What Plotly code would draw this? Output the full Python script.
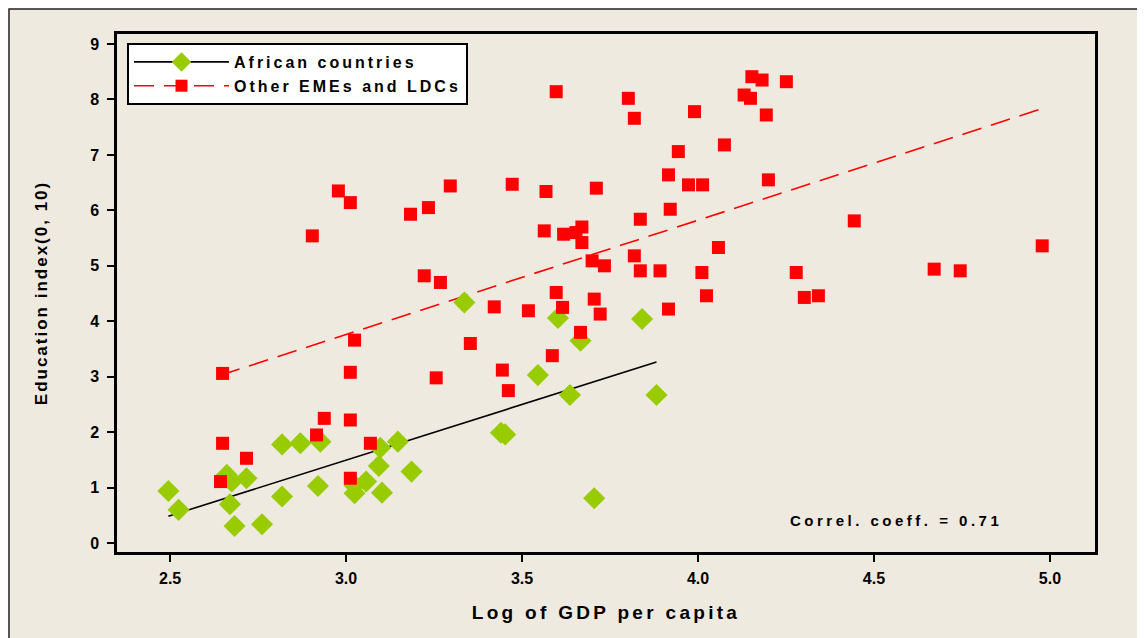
import plotly.graph_objects as go

# ---- data ----
african_x = [2.495, 2.524, 2.661, 2.675, 2.717, 2.670, 2.683, 2.761, 2.818, 2.870,
             2.927, 2.818, 2.920, 3.024, 3.024, 3.057, 3.093, 3.097, 3.147, 3.102,
             3.186, 3.336, 3.602, 3.666, 3.841, 3.545, 3.636, 3.882, 3.440, 3.452,
             3.705]
african_y = [0.94, 0.60, 1.23, 1.11, 1.17, 0.70, 0.31, 0.34, 1.78, 1.80,
             1.83, 0.84, 1.03, 1.04, 0.90, 1.11, 1.39, 1.72, 1.83, 0.91,
             1.29, 4.34, 4.06, 3.65, 4.04, 3.03, 2.67, 2.67, 1.99, 1.96,
             0.81]

other_x = [2.649, 3.012, 3.256, 2.938, 3.012, 2.916, 2.649, 3.069, 2.717, 2.643,
           3.012, 3.024, 3.353, 3.421, 2.978, 3.012, 2.904, 3.183, 3.234, 3.296,
           3.472, 3.222, 3.268, 3.444, 3.461, 3.563, 3.618, 3.653, 3.670, 3.670,
           3.836, 3.699, 3.734, 3.819, 3.836, 3.892, 4.011, 4.024, 4.058, 3.518,
           3.597, 3.615, 3.705, 3.722, 3.916, 3.666, 3.586, 3.597, 3.802, 3.819,
           3.990, 4.153, 4.182, 4.251, 4.131, 4.149, 4.194, 4.075, 3.944, 3.916,
           3.973, 4.013, 4.200, 3.568, 3.711, 3.921, 4.279, 4.302, 4.342, 4.444,
           4.671, 4.745, 4.978]
other_y = [3.06, 3.08, 2.98, 2.25, 2.22, 1.95, 1.80, 1.80, 1.53, 1.11,
           1.17, 3.66, 3.60, 4.26, 6.35, 6.14, 5.54, 5.93, 6.05, 6.44,
           6.47, 4.82, 4.70, 3.12, 2.75, 5.63, 5.57, 5.60, 5.70, 5.42,
           5.84, 5.09, 5.00, 5.18, 4.91, 4.91, 4.88, 4.46, 5.33, 4.19,
           4.52, 4.25, 4.40, 4.13, 4.22, 3.80, 3.38, 8.14, 8.02, 7.66,
           7.78, 8.41, 8.35, 8.32, 8.08, 8.02, 7.72, 7.18, 7.06, 6.64,
           6.46, 6.46, 6.55, 6.34, 6.40, 6.02, 4.88, 4.43, 4.46, 5.81,
           4.94, 4.91, 5.36]

# fitted lines (slope, intercept)
african_fit = (2.006, -4.521)
other_fit = (2.060, -2.418)
correl_text = "Correl. coeff. = 0.71"

series_names = ["African countries", "Other EMEs and LDCs"]
x_title = "Log of GDP per capita"
y_title = "Education index(0, 10)"
x_ticks = [2.5, 3.0, 3.5, 4.0, 4.5, 5.0]
y_ticks = [0, 1, 2, 3, 4, 5, 6, 7, 8, 9]

# ---- styling ----
GREEN = "#99CC00"
RED = "#FF0000"
BEIGE = "#EEEAE0"
FONT = "Liberation Sans"
OFF = 8                      # page body margin
W, H = 1145 - OFF, 638 - OFF
L, T = 117 - OFF, 34 - OFF
R, B = W - (1095 - OFF), H - (552 - OFF)
PW, PH = W - L - R, H - T - B


def px_x(p):
    return (p - OFF - L) / PW


def px_y(p):
    return (H - B - (p - OFF)) / PH


def spaced(txt, sp):
    return f'<span style="letter-spacing:{sp}px">{txt}</span>'


def fit_line(xs, coef):
    lo, hi = min(xs), max(xs)
    return [lo, hi], [coef[0] * lo + coef[1], coef[0] * hi + coef[1]]


fig = go.Figure()

fx, fy = fit_line(african_x, african_fit)
fig.add_trace(go.Scatter(
    x=fx, y=fy, mode="lines+markers", name=spaced(series_names[0], 3),
    line=dict(color="black", width=1.6),
    marker=dict(symbol="diamond", size=15, color=GREEN),
    selectedpoints=[], unselected=dict(marker=dict(opacity=0)),
    hoverinfo="skip", showlegend=True))
fx2, fy2 = fit_line(other_x, other_fit)
fig.add_trace(go.Scatter(
    x=fx2, y=fy2, mode="lines+markers", name=spaced(series_names[1], 3),
    line=dict(color=RED, width=1.6, dash="20px,10px"),
    marker=dict(symbol="square", size=12, color=RED),
    selectedpoints=[], unselected=dict(marker=dict(opacity=0)),
    hoverinfo="skip", showlegend=True))

fig.add_trace(go.Scatter(
    x=african_x, y=african_y, mode="markers", name=series_names[0],
    marker=dict(symbol="diamond", size=17, color=GREEN), showlegend=False))
fig.add_trace(go.Scatter(
    x=other_x, y=other_y, mode="markers", name=series_names[1],
    marker=dict(symbol="square", size=13, color=RED), showlegend=False))

axis_common = dict(
    showgrid=False, zeroline=False, showline=True, linecolor="black",
    linewidth=2.5, mirror=True, ticks="outside", ticklen=7, tickwidth=2,
    tickcolor="black",
    tickfont=dict(family=FONT, size=16, color="black", weight="bold"),
)

fig.update_layout(
    width=W, height=H,
    margin=dict(l=L, r=R, t=T, b=B),
    paper_bgcolor="white",
    plot_bgcolor="white",
    xaxis=dict(range=[2.349, 5.128], tickvals=x_ticks,
               ticktext=[f"{v:.1f}" for v in x_ticks],
               ticklabelstandoff=3,
               title=dict(text=spaced(x_title, 3.3), standoff=20,
                          font=dict(family=FONT, size=19, color="black", weight="bold")),
               **axis_common),
    yaxis=dict(range=[-0.16, 9.18], tickvals=y_ticks,
               ticktext=[str(v) for v in y_ticks],
               ticklabelstandoff=5,
               title=dict(text=spaced(y_title, 2), standoff=39,
                          font=dict(family=FONT, size=17, color="black", weight="bold")),
               **axis_common),
    legend=dict(x=px_x(127), y=px_y(43), xanchor="left", yanchor="top",
                bgcolor="white", bordercolor="black", borderwidth=2,
                font=dict(family=FONT, size=16, color="black", weight="bold"),
                itemwidth=95, tracegroupgap=8),
    showlegend=True,
    shapes=[dict(type="rect", xref="paper", yref="paper",
                 x0=px_x(9), x1=px_x(1170), y0=px_y(660), y1=px_y(9),
                 fillcolor=BEIGE, line=dict(color="#222222", width=1.5),
                 layer="below")],
    annotations=[dict(text=spaced(correl_text, 3.5), xref="paper", yref="paper",
                      x=px_x(1004), y=px_y(520), xanchor="right", yanchor="middle",
                      showarrow=False,
                      font=dict(family=FONT, size=15, color="black", weight="bold"))],
)

fig.write_html("out.html")
